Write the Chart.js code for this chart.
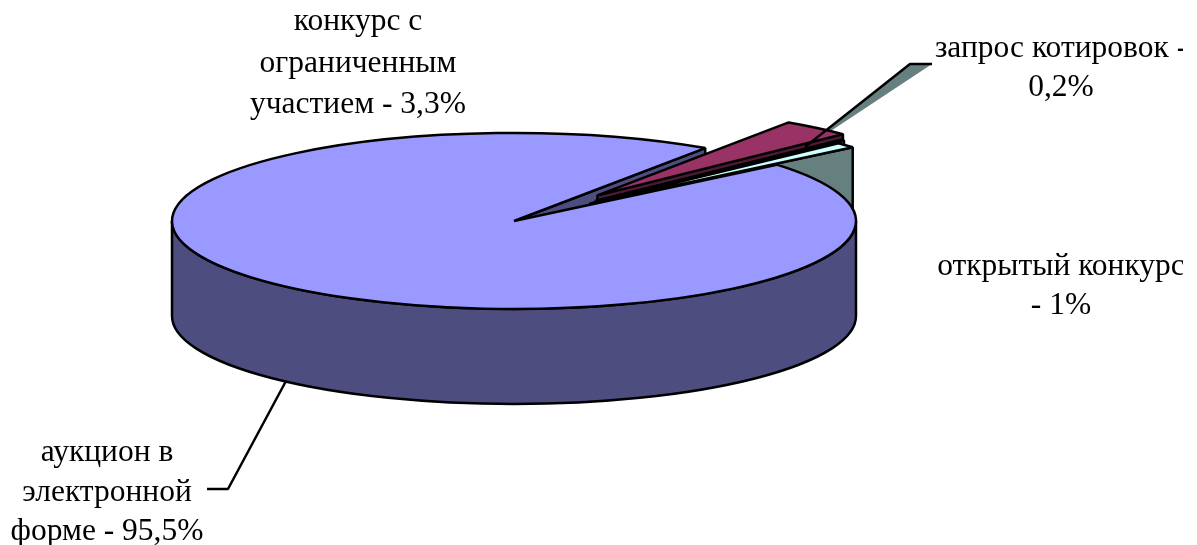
<!DOCTYPE html>
<html>
<head>
<meta charset="utf-8">
<title>Chart</title>
<script src="https://cdn.jsdelivr.net/npm/chart.js@4"></script>
<style>
    html, body { margin: 0; padding: 0; background: #fff; overflow: hidden; }
    canvas { display: block; }
</style>
</head>
<body>
<canvas id="pieChart" width="1197" height="545"></canvas>
<script>
// DATA
let categories = ["аукцион в электронной форме", "конкурс с ограниченным участием", "запрос котировок", "открытый конкурс"];
let shares = [95.5, 3.3, 0.2, 1];

// TEXT, one list of lines per label
let labelLines = [
    ["аукцион в", "электронной", "форме - 95,5%"],
    ["конкурс с", "ограниченным", "участием - 3,3%"],
    ["запрос котировок -", "0,2%"],
    ["открытый конкурс", "- 1%"]
];

// STYLE
let topColors = ["#9999FF", "#993366", "#FFFFCC", "#CCFFFF"];
let wallColors = ["#4D4D80", "#4D1A33", "#808066", "#668080"];
let explode = [0, 0.38, 0.33, 0.297];
let squash = 88 / 342;
let depth = 95;
let lineW = 2.5;

let labelPos = [
    { x: 107, y: 461, gap: 39.5 },
    { x: 358, y: 30, gap: 41.5 },
    { x: 1061, y: 57, gap: 38.5 },
    { x: 1061, y: 275, gap: 39 }
];

function offsetOf(arc, i) {
    let mid = (arc.startAngle + arc.endAngle) / 2;
    return {
        x: Math.cos(mid) * arc.outerRadius * explode[i],
        y: Math.sin(mid) * arc.outerRadius * explode[i] * squash
    };
}

function rim(arc, angle, off) {
    return {
        x: arc.x + off.x + Math.cos(angle) * arc.outerRadius,
        y: arc.y + off.y + Math.sin(angle) * arc.outerRadius * squash
    };
}

function outline(ctx) {
    ctx.strokeStyle = "#000";
    ctx.lineWidth = lineW;
    ctx.lineJoin = "bevel";
    ctx.stroke();
}

// side of a slice along one of its straight edges
function radialWall(ctx, arc, i, angle) {
    let off = offsetOf(arc, i);
    let p = rim(arc, angle, off);
    let ax = arc.x + off.x, ay = arc.y + off.y;
    ctx.beginPath();
    ctx.moveTo(ax, ay);
    ctx.lineTo(p.x, p.y);
    ctx.lineTo(p.x, p.y + depth);
    ctx.lineTo(ax, ay + depth);
    ctx.closePath();
    ctx.fillStyle = wallColors[i];
    ctx.fill();
    outline(ctx);
}

// round front side of the big slice
function frontWall(ctx, arc, i) {
    let r = arc.outerRadius;
    ctx.beginPath();
    ctx.ellipse(arc.x, arc.y, r, r * squash, 0, 0, Math.PI);
    ctx.ellipse(arc.x, arc.y + depth, r, r * squash, 0, Math.PI, 0, true);
    ctx.closePath();
    ctx.fillStyle = wallColors[i];
    ctx.fill();
    outline(ctx);
}

// top face: the library draws the fill, squashed into an ellipse
function topFace(ctx, arc, i) {
    let off = offsetOf(arc, i);
    ctx.save();
    ctx.translate(arc.x + off.x, arc.y + off.y);
    ctx.scale(1, squash);
    ctx.translate(-arc.x, -arc.y);
    arc.draw(ctx);
    ctx.restore();

    let r = arc.outerRadius;
    ctx.beginPath();
    ctx.moveTo(arc.x + off.x, arc.y + off.y);
    ctx.ellipse(arc.x + off.x, arc.y + off.y, r, r * squash, 0, arc.startAngle, arc.endAngle);
    ctx.closePath();
    outline(ctx);
}

function polyline(ctx, pts) {
    ctx.beginPath();
    pts.forEach(function (p, k) {
        if (k == 0) ctx.moveTo(p[0], p[1]);
        else ctx.lineTo(p[0], p[1]);
    });
}

let pie3d = {
    id: "pie3d",
    beforeDatasetsDraw: function (chart) {
        let ctx = chart.ctx;
        let arcs = chart.getDatasetMeta(0).data;

        ctx.save();
        // leader of "запрос котировок", the filled one
        polyline(ctx, [[790, 158], [910, 64], [932, 64]]);
        ctx.closePath();
        ctx.fillStyle = "#668080";
        ctx.fill();

        radialWall(ctx, arcs[0], 0, arcs[0].endAngle);
        radialWall(ctx, arcs[1], 1, arcs[1].endAngle);
        radialWall(ctx, arcs[2], 2, arcs[2].endAngle);
        radialWall(ctx, arcs[3], 3, arcs[3].endAngle);
        frontWall(ctx, arcs[0], 0);

        topFace(ctx, arcs[0], 0);
        topFace(ctx, arcs[1], 1);
        topFace(ctx, arcs[2], 2);
        topFace(ctx, arcs[3], 3);

        // leader lines
        polyline(ctx, [[805, 147], [910, 64], [932, 64]]);
        outline(ctx);
        polyline(ctx, [[286, 381], [228, 489], [207, 489]]);
        outline(ctx);

        // labels, cut at the right edge of the picture
        ctx.beginPath();
        ctx.rect(0, 0, 1183, 545);
        ctx.clip();
        ctx.fillStyle = "#000";
        ctx.font = "31.5px 'Liberation Serif'";
        ctx.textAlign = "center";
        ctx.textBaseline = "alphabetic";
        labelLines.forEach(function (lines, i) {
            lines.forEach(function (line, k) {
                ctx.fillText(line, labelPos[i].x, labelPos[i].y + k * labelPos[i].gap);
            });
        });
        ctx.restore();
        return false;
    }
};

new Chart(document.getElementById("pieChart"), {
    type: "pie",
    data: {
        labels: categories,
        datasets: [{
            data: shares,
            backgroundColor: topColors,
            borderWidth: 0
        }]
    },
    options: {
        responsive: false,
        animation: false,
        events: [],
        radius: 342,
        rotation: 50.2,
        layout: { padding: { right: 169, bottom: 103 } },
        plugins: {
            legend: { display: false },
            tooltip: { enabled: false }
        }
    },
    plugins: [pie3d]
});
</script>
</body>
</html>
